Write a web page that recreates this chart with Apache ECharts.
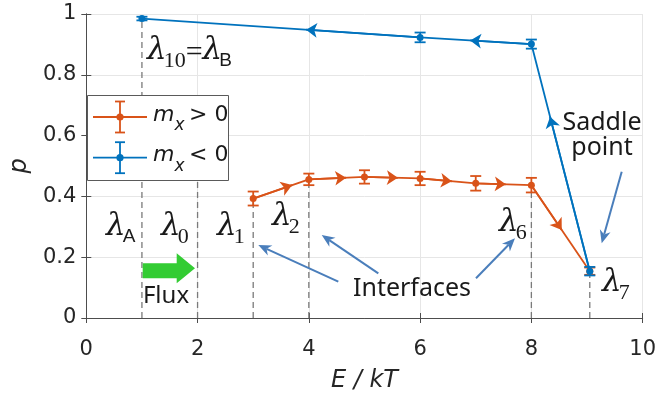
<!DOCTYPE html>
<html>
<head>
<meta charset="utf-8">
<script src="https://cdn.jsdelivr.net/npm/echarts@6/dist/echarts.min.js"></script>
<style>
  html, body { margin: 0; padding: 0; background: #fff; }
  #chart { width: 659px; height: 399px; }
</style>
</head>
<body>
<div id="chart"></div>
<script>
// Interface energies E/kT and the measured probability p (m_x > 0 branch)
const posE = [3, 4, 5, 6, 7, 8, 9.05];
const posP = [0.393, 0.456, 0.464, 0.459, 0.443, 0.437, 0.154];
const posErr = [0.023, 0.019, 0.022, 0.022, 0.024, 0.024, 0.012];

// m_x < 0 branch
const negE = [1, 6, 8, 9.05];
const negP = [0.985, 0.923, 0.901, 0.154];
const negErr = [0.006, 0.016, 0.015, 0.014];

// Position of each flow arrow along its segment, as a fraction in the direction of travel
const posArrowAt = [0.7, 0.67, 0.6, 0.57, 0.54, 0.52];
const negArrowAt = [0.68, 0.55, 0.41]; // travelled from the saddle point back to E = 1

// Interface markers: E position and the height each dashed line reaches
const ifaceE = [1, 2, 3, 4, 8, 9.05];
const ifaceTop = [0.985, 0.6, 0.393, 0.456, 0.437, 0.154];

const xTicks = [0, 2, 4, 6, 8, 10];
const yTicks = [0, 0.2, 0.4, 0.6, 0.8, 1];

const ORANGE = '#D95319';
const BLUE = '#0072BD';
const NOTE = '#4A7EBB';
const AXIS = '#4d4d4d';
const INK = '#1a1a1a';

const chart = echarts.init(document.getElementById('chart'), null, { renderer: 'canvas' });

function pairs(xs, ys) { return xs.map((x, i) => [x, ys[i]]); }

function arrowSegments(xs, ys, fracs, reverse) {
  const pts = pairs(xs, ys);
  if (reverse) pts.reverse();
  const segs = [];
  for (let i = 0; i < pts.length - 1; i++) {
    const a = pts[i], b = pts[i + 1], t = fracs[i];
    segs.push({ coords: [a, [a[0] + t * (b[0] - a[0]), a[1] + t * (b[1] - a[1])]] });
  }
  return segs;
}

function errorBars(xs, ys, errs, color) {
  return {
    type: 'custom',
    z: 4,
    silent: true,
    encode: { x: 0, y: [1, 2] },
    data: xs.map((x, i) => [x, ys[i] - errs[i], ys[i] + errs[i]]),
    renderItem(params, api) {
      const lo = api.coord([api.value(0), api.value(1)]);
      const hi = api.coord([api.value(0), api.value(2)]);
      const w = 5.5;
      const style = { stroke: color, lineWidth: 1.8, fill: null };
      return {
        type: 'group',
        children: [
          { type: 'line', shape: { x1: lo[0], y1: lo[1], x2: hi[0], y2: hi[1] }, style },
          { type: 'line', shape: { x1: lo[0] - w, y1: lo[1], x2: lo[0] + w, y2: lo[1] }, style },
          { type: 'line', shape: { x1: hi[0] - w, y1: hi[1], x2: hi[0] + w, y2: hi[1] }, style }
        ]
      };
    }
  };
}

const dashedInterfaces = {
  type: 'custom',
  z: 1,
  silent: true,
  encode: { x: 0, y: [1, 2] },
  data: ifaceE.map((e, i) => [e, 0, ifaceTop[i]]),
  renderItem(params, api) {
    const lo = api.coord([api.value(0), api.value(1)]);
    const hi = api.coord([api.value(0), api.value(2)]);
    return {
      type: 'line',
      shape: { x1: lo[0], y1: lo[1], x2: hi[0], y2: hi[1] },
      style: { stroke: '#7a7a7a', lineWidth: 1.3, lineDash: [6, 4], fill: null }
    };
  }
};

// ---- annotation helpers (pixel space) ----
const measureCtx = document.createElement('canvas').getContext('2d');
function textWidth(text, font) { measureCtx.font = font; return measureCtx.measureText(text).width; }

const LAMBDA_FONT = 'italic 31px "DejaVu Serif"';
const SUB_SERIF = '22px "Liberation Serif"';
const SUB_SANS = '19px "Liberation Sans"';

function txt(x, y, text, font, extra) {
  return Object.assign({
    type: 'text', z: 50, silent: true,
    style: { x, y, text, font, fill: INK, align: 'left', verticalAlign: 'middle' }
  }, extra || {});
}

function ctxt(x, y, text, font) {
  return {
    type: 'text', z: 50, silent: true,
    style: { x, y, text, font, fill: INK, align: 'center', verticalAlign: 'middle' }
  };
}

// λ with a subscript; x = left edge, y = vertical centre of λ
function lambda(x, y, sub, subFont) {
  const w = textWidth('λ', LAMBDA_FONT);
  return [
    txt(x, y, 'λ', LAMBDA_FONT),
    txt(x + w - 3, y + 10, sub, subFont || SUB_SERIF)
  ];
}

function noteArrow(x1, y1, x2, y2) {
  const ang = Math.atan2(y2 - y1, x2 - x1);
  const L = 13, H = 5.5;
  const bx = x2 - L * Math.cos(ang), by = y2 - L * Math.sin(ang);
  const nx = -Math.sin(ang), ny = Math.cos(ang);
  const mx = x2 - (L * 0.7) * Math.cos(ang), my = y2 - (L * 0.7) * Math.sin(ang);
  return [
    { type: 'line', z: 50, silent: true, shape: { x1, y1, x2: mx, y2: my },
      style: { stroke: NOTE, lineWidth: 2 } },
    { type: 'polygon', z: 50, silent: true,
      shape: { points: [[x2, y2], [bx + H * nx, by + H * ny], [mx, my], [bx - H * nx, by - H * ny]] },
      style: { fill: NOTE } }
  ];
}

function legendRow(y, color, label) {
  const cx = 120;
  const st = { stroke: color, lineWidth: 1.8 };
  const mFont = 'italic 22px "DejaVu Sans"';
  const mW = textWidth('m', mFont);
  const xFont = 'italic 17px "DejaVu Sans"';
  const xW = textWidth('x', xFont);
  return [
    { type: 'line', z: 61, shape: { x1: 93, y1: y, x2: 147, y2: y }, style: st },
    { type: 'line', z: 61, shape: { x1: cx, y1: y - 15.5, x2: cx, y2: y + 15.5 }, style: st },
    { type: 'line', z: 61, shape: { x1: cx - 5, y1: y - 15.5, x2: cx + 5, y2: y - 15.5 }, style: st },
    { type: 'line', z: 61, shape: { x1: cx - 5, y1: y + 15.5, x2: cx + 5, y2: y + 15.5 }, style: st },
    { type: 'circle', z: 62, shape: { cx, cy: y, r: 3.6 }, style: { fill: color } },
    txt(153, y - 2, 'm', mFont, { z: 62 }),
    txt(153 + mW, y + 9, 'x', xFont, { z: 62 }),
    txt(189, y - 2, label, '22px "DejaVu Sans"', { z: 62 })
  ];
}

const graphics = [];
graphics.push(...lambda(106, 227, 'A', SUB_SANS));
graphics.push(...lambda(161, 227, '0'));
graphics.push(...lambda(217, 227, '1'));
graphics.push(...lambda(272, 217, '2'));
graphics.push(...lambda(499, 223, '6'));
graphics.push(...lambda(602, 283, '7'));
(function () {
  let x = 147;
  const y = 51;
  const lw = textWidth('λ', LAMBDA_FONT);
  graphics.push(txt(x, y, 'λ', LAMBDA_FONT));
  x += lw - 3;
  graphics.push(txt(x, y + 10, '10', SUB_SERIF));
  x += textWidth('10', SUB_SERIF);
  graphics.push(txt(x, y + 2, '=', '30px "Liberation Serif"'));
  x += textWidth('=', '30px "Liberation Serif"');
  graphics.push(txt(x, y, 'λ', LAMBDA_FONT));
  x += lw - 3;
  graphics.push(txt(x, y + 10, 'B', SUB_SANS));
})();

// Flux arrow
graphics.push({
  type: 'polygon', z: 50, silent: true,
  shape: { points: [[142.7, 263.3], [176.7, 263.3], [176.7, 253.3], [195, 268.3], [176.7, 283.3], [176.7, 278.3], [142.7, 278.3]] },
  style: { fill: '#33CC33' }
});
graphics.push(ctxt(166, 296, 'Flux', '24px "Noto Sans"'));
graphics.push(ctxt(412, 289, 'Interfaces', '25px "Noto Sans"'));
graphics.push({
  type: 'text', z: 50, silent: true,
  style: { x: 602, y: 135, text: 'Saddle\npoint', font: '25px "Noto Sans"', lineHeight: 25, fill: INK, align: 'center', verticalAlign: 'middle' }
});
graphics.push(...noteArrow(338.3, 281.7, 258.3, 245));
graphics.push(...noteArrow(378.3, 273.3, 321.7, 235));
graphics.push(...noteArrow(476, 278.3, 515, 238.3));
graphics.push(...noteArrow(621.7, 171.7, 601.7, 243.3));

// Legend box
graphics.push({ type: 'rect', z: 60, shape: { x: 87.5, y: 95.5, width: 141, height: 85 },
  style: { fill: '#fff', stroke: '#5a5a5a', lineWidth: 1 } });
graphics.push(...legendRow(117, ORANGE, '> 0'));
graphics.push(...legendRow(157.7, BLUE, '< 0'));

const tickFont = { fontFamily: 'DejaVu Sans', fontSize: 21, color: '#262626' };

const option = {
  animation: false,
  backgroundColor: '#fff',
  grid: { left: 82, top: 14, width: 563, height: 304, containLabel: false },
  xAxis: [
    {
      type: 'value', min: 0, max: 10, interval: 2,
      name: 'E / kT', nameLocation: 'middle', nameGap: 51,
      nameTextStyle: { fontFamily: 'DejaVu Sans', fontStyle: 'italic', fontSize: 24, color: '#262626' },
      axisLine: { show: true, lineStyle: { color: AXIS, width: 1 } },
      axisTick: { show: true, inside: true, length: 5, lineStyle: { color: AXIS } },
      axisLabel: Object.assign({ margin: 21, formatter: v => (xTicks.includes(v) ? String(v) : '') }, tickFont),
      splitLine: { show: true, lineStyle: { color: '#e6e6e6', width: 1 } }
    },
    {
      type: 'value', min: 0, max: 10, interval: 2, position: 'top',
      axisLine: { show: true, lineStyle: { color: AXIS, width: 1 } },
      axisTick: { show: true, inside: true, length: 5, lineStyle: { color: AXIS } },
      axisLabel: { show: false }, splitLine: { show: false }
    }
  ],
  yAxis: [
    {
      type: 'value', min: 0, max: 1, interval: 0.2,
      name: 'p', nameLocation: 'middle', nameGap: 54,
      nameTextStyle: { fontFamily: 'DejaVu Sans', fontStyle: 'italic', fontSize: 24, color: '#262626' },
      axisLine: { show: true, lineStyle: { color: AXIS, width: 1 } },
      axisTick: { show: true, inside: true, length: 5, lineStyle: { color: AXIS } },
      axisLabel: Object.assign({ margin: 10, formatter: v => {
        const t = yTicks.find(k => Math.abs(k - v) < 1e-9);
        return t === undefined ? '' : String(t);
      } }, tickFont),
      splitLine: { show: true, lineStyle: { color: '#e6e6e6', width: 1 } }
    },
    {
      type: 'value', min: 0, max: 1, interval: 0.2, position: 'right',
      axisLine: { show: true, lineStyle: { color: AXIS, width: 1 } },
      axisTick: { show: true, inside: true, length: 5, lineStyle: { color: AXIS } },
      axisLabel: { show: false }, splitLine: { show: false }
    }
  ],
  series: [
    dashedInterfaces,
    {
      name: 'm_x > 0', type: 'line', z: 3, data: pairs(posE, posP),
      symbol: 'circle', symbolSize: 7, showAllSymbol: true,
      itemStyle: { color: ORANGE }, lineStyle: { color: ORANGE, width: 1.8 }
    },
    errorBars(posE, posP, posErr, ORANGE),
    {
      type: 'lines', coordinateSystem: 'cartesian2d', z: 3, silent: true,
      data: arrowSegments(posE, posP, posArrowAt, false),
      symbol: ['none', 'arrow'], symbolSize: 11,
      lineStyle: { color: ORANGE, width: 1.8, opacity: 1 }
    },
    {
      name: 'm_x < 0', type: 'line', z: 5, data: pairs(negE, negP),
      symbol: 'circle', symbolSize: 7, showAllSymbol: true,
      itemStyle: { color: BLUE }, lineStyle: { color: BLUE, width: 1.8 }
    },
    Object.assign(errorBars(negE, negP, negErr, BLUE), { z: 6 }),
    {
      type: 'lines', coordinateSystem: 'cartesian2d', z: 5, silent: true,
      data: arrowSegments(negE, negP, negArrowAt, true),
      symbol: ['none', 'arrow'], symbolSize: 11,
      lineStyle: { color: BLUE, width: 1.8, opacity: 1 }
    }
  ],
  graphic: { elements: graphics }
};

chart.setOption(option);
</script>
</body>
</html>
